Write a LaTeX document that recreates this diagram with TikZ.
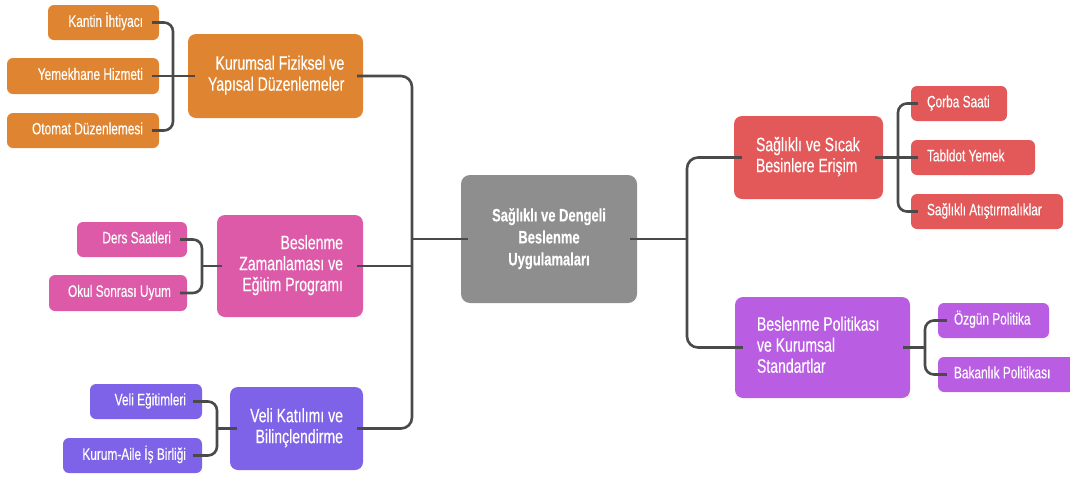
\documentclass[tikz,border=0pt]{standalone}
\usepackage{fontspec}
\setmainfont{Liberation Sans}[FakeStretch=0.72,FakeBold=0.25]
\definecolor{corange}{HTML}{DF8431}
\definecolor{cpink}{HTML}{DD5AA8}
\definecolor{cviolet}{HTML}{7E63E8}
\definecolor{cred}{HTML}{E35858}
\definecolor{cpurple}{HTML}{B95EE3}
\definecolor{cgray}{HTML}{8E8E8E}
\definecolor{linec}{HTML}{4A4A4A}
\tikzset{
  leaf/.style={fill=#1, rounded corners=6pt, text=white, font=\fontsize{16.5}{19}\selectfont, execute at begin node={\spaceskip=3.3pt\relax}, inner ysep=0pt},
  mid/.style={fill=#1, rounded corners=8pt, text=white, font=\fontsize{19.5}{21}\selectfont, execute at begin node={\spaceskip=3.9pt\relax}, inner ysep=0pt},
  rootbox/.style={fill=cgray, rounded corners=9pt, text=white, font=\fontsize{18}{22}\selectfont\bfseries, execute at begin node={\spaceskip=3.6pt\relax}, inner ysep=0pt},
  conn/.style={draw=linec, line width=2.6pt, rounded corners=9pt},
}
% name, x1, y1, x2, y2, style, xsep, column type, text
\newcommand\mybox[9]{%
  \pgfmathsetmacro\mytw{#4-#2-2*#7}%
  \pgfmathsetmacro\mymh{#5-#3}%
  \pgfmathsetmacro\mycx{(#2+#4)/2}%
  \pgfmathsetmacro\mycy{(#3+#5)/2}%
  \node[#6, inner xsep=#7pt, text width=\mytw pt, minimum height=\mymh pt] (#1) at (\mycx,\mycy) {\begin{tabular}{@{}#8@{}}#9\end{tabular}};%
}
\begin{document}
\begin{tikzpicture}[x=1pt,y=-1pt]
\useasboundingbox (0,0) rectangle (1070,477);
% left side
\mybox{k1}{48}{5}{159}{40}{leaf=corange,align=right}{16}{r}{Kantin İhtiyacı}
\mybox{k2}{7}{58}{159}{94}{leaf=corange,align=right}{16}{r}{Yemekhane Hizmeti}
\mybox{k3}{7}{113}{159}{148}{leaf=corange,align=right}{16}{r}{Otomat Düzenlemesi}
\mybox{p1}{188}{34}{363}{118}{mid=corange,align=right}{20}{r}{Kurumsal Fiziksel ve\\Yapısal Düzenlemeler}
\mybox{s1}{77}{222}{187}{257}{leaf=cpink,align=right}{16}{r}{Ders Saatleri}
\mybox{s2}{49}{275}{187}{311}{leaf=cpink,align=right}{16}{r}{Okul Sonrası Uyum}
\mybox{p2}{217}{215}{363}{317}{mid=cpink,align=right}{20}{r}{Beslenme\\Zamanlaması ve\\Eğitim Programı}
\mybox{v1}{90}{384}{202}{419}{leaf=cviolet,align=right}{16}{r}{Veli Eğitimleri}
\mybox{v2}{63}{438}{202}{473}{leaf=cviolet,align=right}{16}{r}{Kurum-Aile İş Birliği}
\mybox{p3}{230}{387}{363}{470}{mid=cviolet,align=right}{20}{r}{Veli Katılımı ve\\Bilinçlendirme}
% root
\mybox{root}{461}{175}{637}{303}{rootbox,align=center}{12}{c}{Sağlıklı ve Dengeli\\Beslenme\\Uygulamaları}
% right side
\mybox{r1}{734}{116}{883}{199}{mid=cred,align=left}{22}{l}{Sağlıklı ve Sıcak\\Besinlere Erişim}
\mybox{c1}{911}{86}{1007}{121}{leaf=cred,align=left}{16}{l}{Çorba Saati}
\mybox{c2}{911}{140}{1035}{175}{leaf=cred,align=left}{16}{l}{Tabldot Yemek}
\mybox{c3}{911}{194}{1063}{229}{leaf=cred,align=left}{16}{l}{Sağlıklı Atıştırmalıklar}
\mybox{r2}{735}{297}{910}{398}{mid=cpurple,align=left}{22}{l}{Beslenme Politikası\\ve Kurumsal\\Standartlar}
\mybox{d1}{938}{303}{1049}{338}{leaf=cpurple,align=left}{16}{l}{Özgün Politika}
\mybox{d2}{938}{357}{1080}{392}{leaf=cpurple,align=left}{16}{l}{Bakanlık Politikası}
% junction coordinates
\coordinate (bo) at (173,76);
\coordinate (bp) at (202,266);
\coordinate (bv) at (217,428.5);
\coordinate (tl) at (412,239);
\coordinate (tr) at (687,239);
\coordinate (br) at (898,157.5);
\coordinate (bd) at (925,347.5);
% left connectors
\draw[conn] ([xshift=-7pt]k1.east) -| (bo) |- ([xshift=-7pt]k3.east);
\draw[conn] ([xshift=-7pt]k2.east) -- ([xshift=7pt]p1.west);
\draw[conn] ([xshift=-7pt]s1.east) -| (bp) |- ([xshift=-7pt]s2.east);
\draw[conn] (bp) -- ([xshift=5pt]p2.west);
\draw[conn] ([xshift=-9pt]v1.east) -| (bv) |- ([xshift=-9pt]v2.east);
\draw[conn] (bv) -- ([xshift=7pt]p3.west);
% left trunk
\draw[conn,rounded corners=11pt] ([xshift=-6pt]p1.east) -| (tl) |- ([xshift=-6pt]p3.east);
\draw[conn] ([xshift=-6pt]p2.east) -- (p2.east -| tl);
\draw[conn] (tl) -- ([xshift=7pt]root.west);
% right trunk
\draw[conn] ([xshift=-7pt]root.east) -- (tr);
\draw[conn,rounded corners=11pt] ([xshift=8pt]r1.west) -| (tr) |- ([xshift=8pt]r2.west);
\draw[conn] ([xshift=7pt]c1.west) -| (br) |- ([xshift=7pt]c3.west);
\draw[conn] ([xshift=-8pt]r1.east) -- ([xshift=7pt]c2.west);
\draw[conn] ([xshift=9pt]d1.west) -| (bd) |- ([xshift=9pt]d2.west);
\draw[conn] ([xshift=-7pt]r2.east) -- (bd);
\end{tikzpicture}
\end{document}
